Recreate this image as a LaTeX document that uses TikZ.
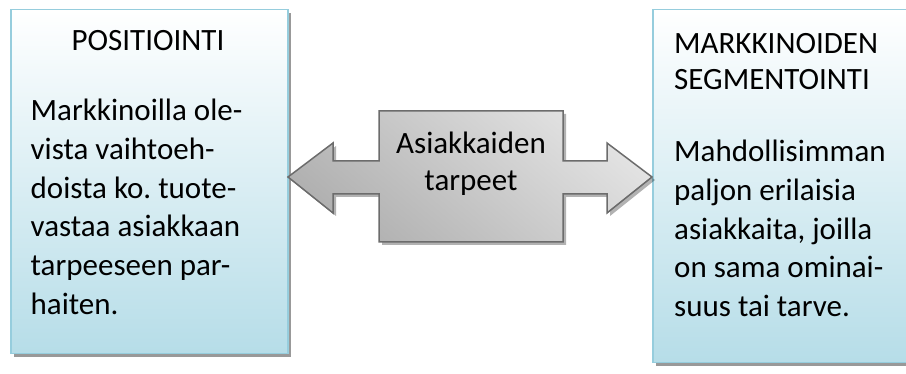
\documentclass[tikz,border=0pt]{standalone}
\usepackage{fontspec}
\setmainfont{Carlito}
\usetikzlibrary{shadows}
\usetikzlibrary{positioning}

\definecolor{aqualine}{RGB}{150,205,221}
\definecolor{aquafill}{RGB}{182,221,232}
\definecolor{arrowline}{RGB}{108,108,108}

\begin{document}
\frenchspacing
\begin{tikzpicture}[x=1pt, y=-1pt, panel/.style={rectangle, draw=aqualine, line width=1.5pt, top color=white, bottom color=aquafill, anchor=north west, inner sep=0pt, drop shadow={shadow xshift=3pt, shadow yshift=-3pt, fill=black, opacity=0.4}}, heading/.style={inner sep=0pt, font=\fontsize{31}{35.7}\selectfont}, body/.style={anchor=north west, inner sep=0pt, align=left, font=\fontsize{31}{38.7}\selectfont}, bigarrow/.style={draw=arrowline, line width=1.5pt, line join=miter, top color=gray!22, middle color=gray!42, bottom color=gray!62, shading angle=-40, drop shadow={shadow xshift=3pt, shadow yshift=-3pt, fill=black, opacity=0.3}}]
\useasboundingbox (0,0) rectangle (906,374);
\node [panel, minimum width=277pt, minimum height=344pt] (positioning) at (10,9) {};
\node [panel, minimum width=262pt, minimum height=353pt] (segmenting) at (652,9) {};
\draw [bigarrow] (288,177) -- (333,143) -- (333,161) -- (379,161) -- (379,111) -- (563,111) -- (563,161) -- (607,161) -- (607,143) -- (652,177) -- (607,213) -- (607,194) -- (563,194) -- (563,242) -- (379,242) -- (379,194) -- (333,194) -- (333,213) -- cycle;
\node [heading, anchor=north] (postitle) at (148,30) {POSITIOINTI};
\node [body] (postext) at (30.5,99) {Markkinoilla ole-\\vista vaihtoeh-\\doista ko. tuote-\\vastaa asiakkaan\\tarpeeseen par-\\haiten.};
\node [heading, anchor=north west, align=left] (segtitle) at (674,33.5) {MARKKINOIDEN\\SEGMENTOINTI};
\node [body] (segtext) at (674,140) {Mahdollisimman\\paljon erilaisia\\asiakkaita, joilla\\on sama ominai-\\suus tai tarve.};
\node [heading, anchor=north, align=center, font=\fontsize{31}{37}\selectfont] (needs) at (471,131.3) {Asiakkaiden\\tarpeet};
\end{tikzpicture}
\end{document}
